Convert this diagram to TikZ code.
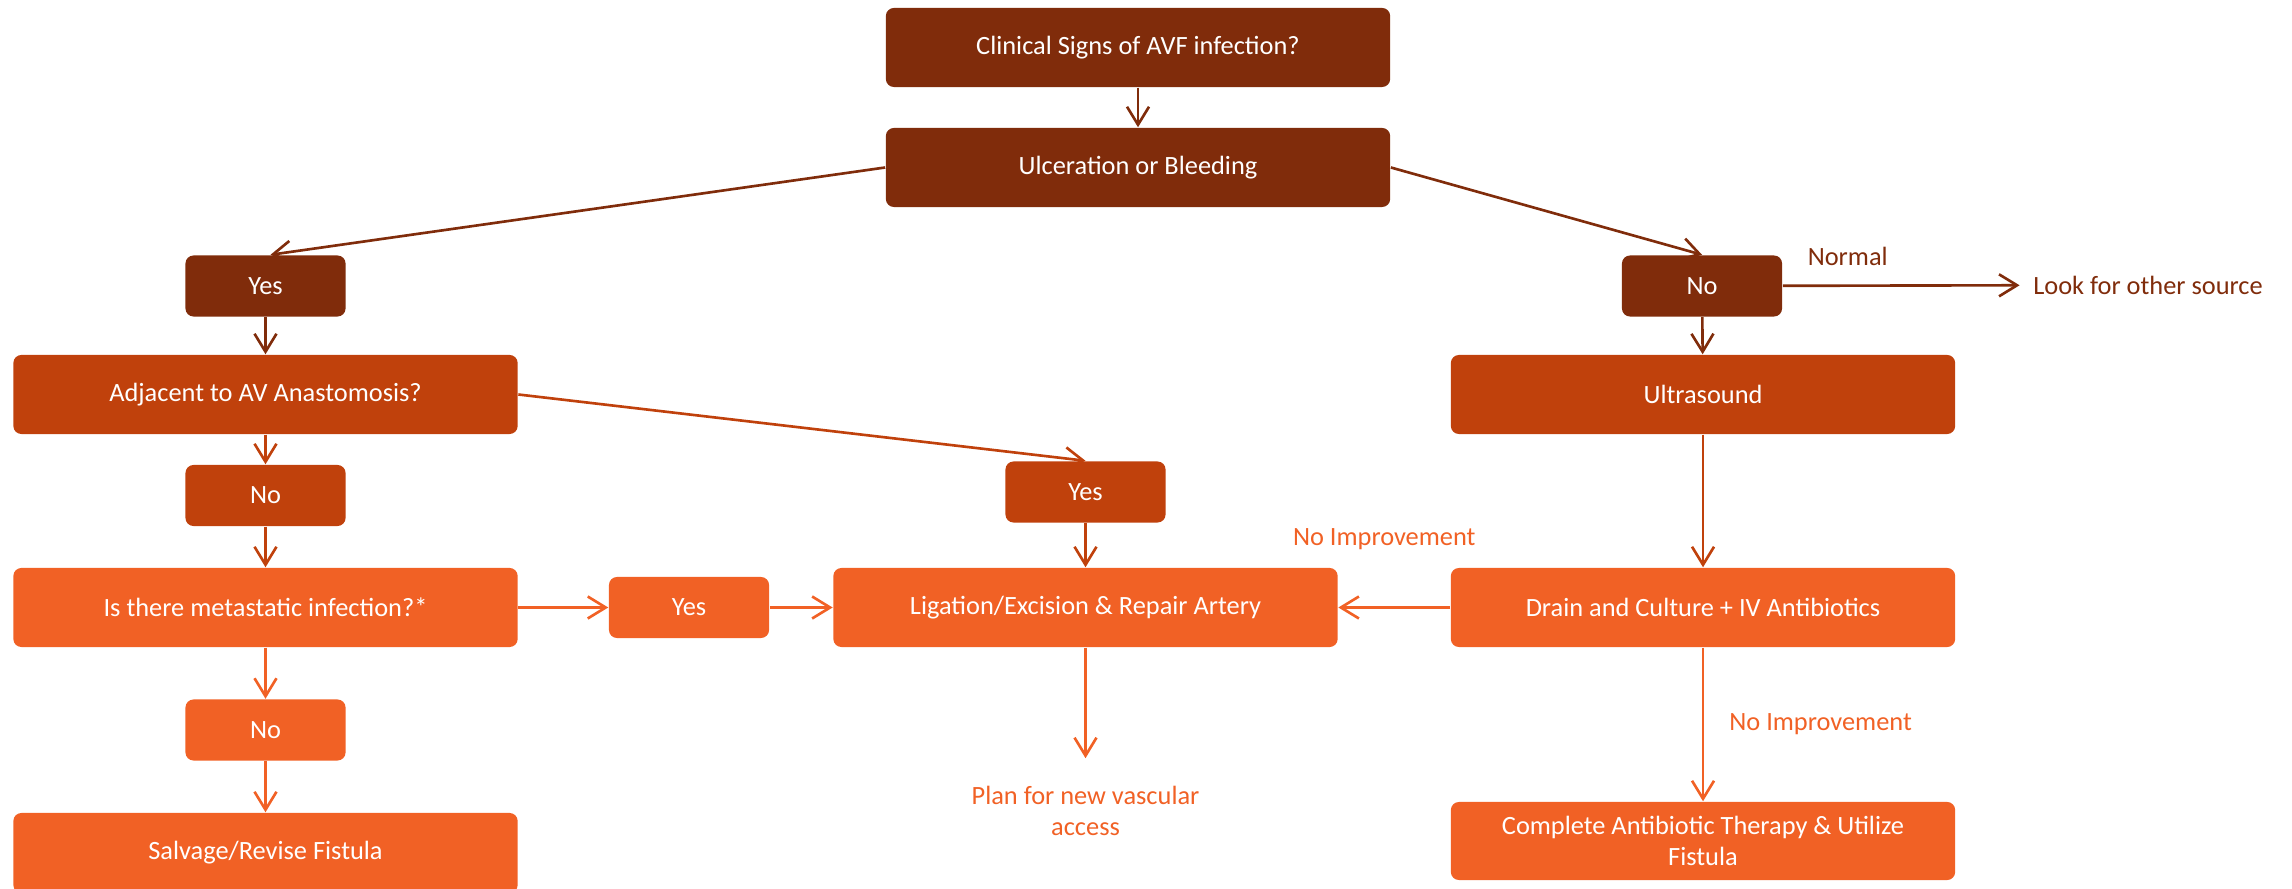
\documentclass[tikz,border=0pt]{standalone}
\usepackage{fontspec}
\setmainfont{Carlito}
\usepackage{xcolor}
\usepackage{tikz}
\usetikzlibrary{arrows.meta, positioning}
\definecolor{dkbrown}{RGB}{128,44,11}
\definecolor{midorange}{RGB}{192,65,12}
\definecolor{ltorange}{RGB}{241,97,37}
\tikzset{
	flowbox/.style={rounded corners=0.08cm, minimum height=0.79cm, minimum width=5.04cm, inner sep=0pt, align=center, text=white, fill=#1, font=\fontsize{7.5}{9}\selectfont},
	ansbox/.style={flowbox=#1, minimum height=0.61cm, minimum width=1.6cm},
	flowarr/.style={-{Straight Barb[length=1.8mm, width=2.2mm]}, line width=0.75pt, draw=#1},
	flownote/.style={inner sep=0pt, align=center, text=#1, font=\fontsize{7.5}{9}\selectfont},
}
\begin{document}
\begin{tikzpicture}[x=0.01cm, y=-0.01cm]
	\useasboundingbox (0,0) rectangle (2292,889);
	\node[flowbox=dkbrown] (clin) at (1138,47.5) {Clinical Signs of AVF infection?};
	\node[flowbox=dkbrown] (ulc) at (1138,167.5) {Ulceration or Bleeding};
	\node[ansbox=dkbrown] (yes1) at (265.5,286) {Yes};
	\node[ansbox=dkbrown] (no1) at (1702,286) {No};
	\node[flownote=dkbrown] (look) at (2148,285) {Look for other source};
	\node[flowbox=midorange] (adj) at (265.5,394.5) {Adjacent to AV Anastomosis?};
	\node[flowbox=midorange] (ultra) at (1703,394.5) {Ultrasound};
	\node[ansbox=midorange] (no2) at (265.5,495.5) {No};
	\node[ansbox=midorange] (yes2) at (1085.5,492) {Yes};
	\node[flowbox=ltorange] (isth) at (265.5,607.5) {Is there metastatic infection?*};
	\node[ansbox=ltorange] (yes3) at (689,607.5) {Yes};
	\node[flowbox=ltorange] (lig) at (1085.5,607.5) {Ligation/Excision \& Repair Artery};
	\node[flowbox=ltorange] (drain) at (1703,607.5) {Drain and Culture + IV Antibiotics};
	\node[ansbox=ltorange] (no3) at (265.5,730) {No};
	\node[flowbox=ltorange, minimum height=0.8cm] (salv) at (265.5,853) {Salvage/Revise Fistula};
	\node[flownote=ltorange] (plan) at (1085.5,811) {Plan for new vascular\\access};
	\node[flowbox=ltorange, minimum height=0.78cm] (compl) at (1703,841) {Complete Antibiotic Therapy \& Utilize\\Fistula};
	\draw[flowarr=dkbrown] (clin) -- (ulc);
	\draw[flowarr=dkbrown] (ulc.west) -- ([xshift=0.05cm]yes1.north);
	\draw[flowarr=dkbrown] (ulc.east) -- (no1.north);
	\draw[flowarr=dkbrown] (yes1) -- (adj);
	\draw[flowarr=dkbrown] (no1) -- (ultra);
	\draw[flowarr=dkbrown, shorten >=0.13cm] (no1) -- node[flownote=dkbrown, pos=0.26, above=0.19cm] {Normal} (look);
	\draw[flowarr=midorange] (adj.east) -- (yes2.north);
	\draw[flowarr=midorange] (adj) -- (no2);
	\draw[flowarr=midorange] (no2) -- (isth);
	\draw[flowarr=midorange] (yes2) -- (lig);
	\draw[flowarr=midorange] (ultra) -- (drain);
	\draw[flowarr=ltorange] (isth) -- (yes3);
	\draw[flowarr=ltorange] (yes3) -- (lig);
	\draw[flowarr=ltorange] (drain) -- node[flownote=ltorange, midway, yshift=0.68cm, xshift=-0.1cm] {No Improvement} (lig);
	\draw[flowarr=ltorange, shorten >=0.27cm] (lig) -- (plan);
	\draw[flowarr=ltorange] (drain) -- node[flownote=ltorange, midway, right=0.25cm] {No Improvement} (compl);
	\draw[flowarr=ltorange] (isth) -- (no3);
	\draw[flowarr=ltorange] (no3) -- (salv);
\end{tikzpicture}
\end{document}
